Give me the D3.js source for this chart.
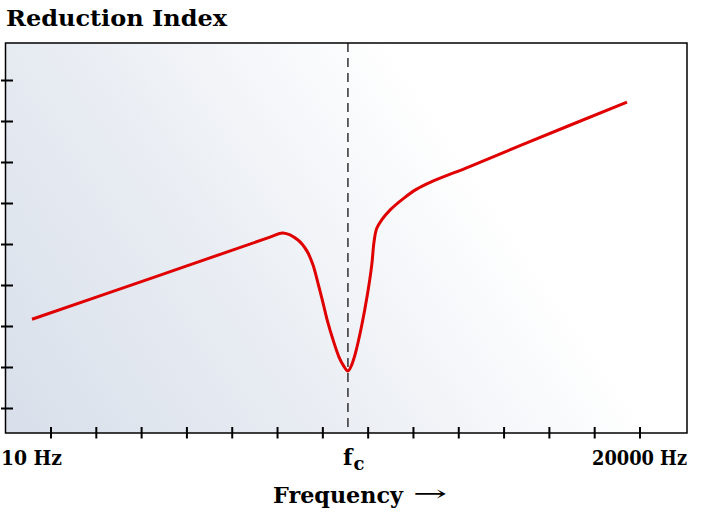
<!DOCTYPE html>
<html>
<head>
<meta charset="utf-8">
<script src="https://cdn.jsdelivr.net/npm/d3@7/dist/d3.min.js"></script>
<style>
  html, body { margin: 0; padding: 0; background: #ffffff; }
  svg { display: block; }
</style>
</head>
<body>
<svg id="chart" width="703" height="515"></svg>
<script>
// ---- data ----
const frequencies = [10, 45.2, 209, 247, 299, 335.5, 362.3, 386.0, 411.6, 438.6, 467.8, 505.0, 531.5, 566, 596.2, 619, 675, 725, 767, 790, 817, 871, 968, 1148, 1362, 1608, 2680, 5099, 20000];
const reductionDb = [21.7, 31.6, 41.7, 42.7, 41.0, 38.3, 34.9, 30.5, 25.7, 20.8, 16.7, 12.5, 10.6, 9.1, 10.8, 13.0, 20.2, 27.6, 34.9, 40.6, 43.8, 45.9, 48.3, 51.1, 53.4, 55.0, 58.9, 64.0, 74.6];
const criticalFrequency = 566;
const yTickValues = [0, 10, 20, 30, 40, 50, 60, 70, 80];
const xTickIndex = [0, 1, 2, 3, 4, 5, 6, 7, 8, 9, 10, 11, 12, 13];
const titleText = "Reduction Index";
const xAxisTitle = "Frequency";
const xLabelLow = "10 Hz";
const xLabelHigh = "20000 Hz";

// ---- layout ----
const plot = { left: 5.5, top: 43, right: 687, bottom: 433 };
const svg = d3.select("#chart");
const FONT = "'DejaVu Serif', serif";

const x = d3.scaleLog().domain([10, 20000]).range([32, 627]);
const y = d3.scaleLinear().domain([-6, 89]).range([plot.bottom, plot.top]);
const xTickPos = d3.scaleLinear().domain([0, 13]).range([51, 640]);

// background gradient
const defs = svg.append("defs");
const grad = defs.append("linearGradient")
  .attr("id", "bg").attr("gradientUnits", "userSpaceOnUse")
  .attr("x1", 5).attr("y1", 433).attr("x2", 450).attr("y2", 130);
grad.append("stop").attr("offset", "0").attr("stop-color", "#d8dfea");
grad.append("stop").attr("offset", "0.5").attr("stop-color", "#e9edf3");
grad.append("stop").attr("offset", "1").attr("stop-color", "#ffffff");

svg.append("rect")
  .attr("x", plot.left).attr("y", plot.top)
  .attr("width", plot.right - plot.left).attr("height", plot.bottom - plot.top)
  .attr("fill", "url(#bg)");

// critical frequency dashed line
svg.append("line")
  .attr("x1", x(criticalFrequency)).attr("x2", x(criticalFrequency))
  .attr("y1", plot.top).attr("y2", plot.bottom)
  .attr("stroke", "#111").attr("stroke-width", 1.3)
  .attr("stroke-dasharray", "9,6");

// curve
const line = d3.line()
  .x((d, i) => x(frequencies[i]))
  .y((d, i) => y(reductionDb[i]))
  .curve(d3.curveCatmullRom.alpha(0.5));

svg.append("path")
  .datum(reductionDb)
  .attr("d", line)
  .attr("fill", "none")
  .attr("stroke", "#e00000")
  .attr("stroke-width", 3)
  .attr("stroke-linejoin", "round")
  .attr("stroke-linecap", "butt");

// frame
svg.append("rect")
  .attr("x", plot.left).attr("y", plot.top)
  .attr("width", plot.right - plot.left).attr("height", plot.bottom - plot.top)
  .attr("fill", "none").attr("stroke", "#000").attr("stroke-width", 1.5);

// y ticks
svg.append("g").selectAll("line").data(yTickValues).join("line")
  .attr("x1", 1).attr("x2", 13)
  .attr("y1", d => Math.round(y(d)) + 0.5).attr("y2", d => Math.round(y(d)) + 0.5)
  .attr("stroke", "#000").attr("stroke-width", 2);

// x ticks
svg.append("g").selectAll("line").data(xTickIndex).join("line")
  .attr("x1", d => xTickPos(d)).attr("x2", d => xTickPos(d))
  .attr("y1", 427).attr("y2", 438.5)
  .attr("stroke", "#000").attr("stroke-width", 2);

// title
svg.append("text")
  .attr("x", 6).attr("y", 26)
  .attr("font-family", FONT).attr("font-weight", "bold").attr("font-size", 23)
  .attr("textLength", 221).attr("lengthAdjust", "spacingAndGlyphs")
  .attr("fill", "#000")
  .text(titleText);

// x labels
svg.append("text")
  .attr("x", 1).attr("y", 465)
  .attr("font-family", FONT).attr("font-weight", "bold").attr("font-size", 20)
  .attr("textLength", 61).attr("lengthAdjust", "spacingAndGlyphs")
  .attr("fill", "#000")
  .text(xLabelLow);

svg.append("text")
  .attr("x", 592).attr("y", 465)
  .attr("font-family", FONT).attr("font-weight", "bold").attr("font-size", 20)
  .attr("textLength", 95).attr("lengthAdjust", "spacingAndGlyphs")
  .attr("fill", "#000")
  .text(xLabelHigh);

// f_c label
const fc = svg.append("text")
  .attr("x", x(criticalFrequency) - 5).attr("y", 465)
  .attr("font-family", FONT).attr("font-weight", "bold").attr("font-size", 22)
  .attr("fill", "#000");
fc.append("tspan").text("f");
fc.append("tspan").attr("font-size", 18).attr("dy", 5).attr("dx", 1).text("c");

// x axis title
svg.append("text")
  .attr("x", 273).attr("y", 503)
  .attr("font-family", FONT).attr("font-weight", "bold").attr("font-size", 23)
  .attr("textLength", 130).attr("lengthAdjust", "spacingAndGlyphs")
  .attr("fill", "#000")
  .text(xAxisTitle);
svg.append("text")
  .attr("x", 413).attr("y", 501)
  .attr("font-family", FONT).attr("font-size", 22)
  .attr("textLength", 34).attr("lengthAdjust", "spacingAndGlyphs")
  .attr("fill", "#000")
  .text("→");
</script>
</body>
</html>
